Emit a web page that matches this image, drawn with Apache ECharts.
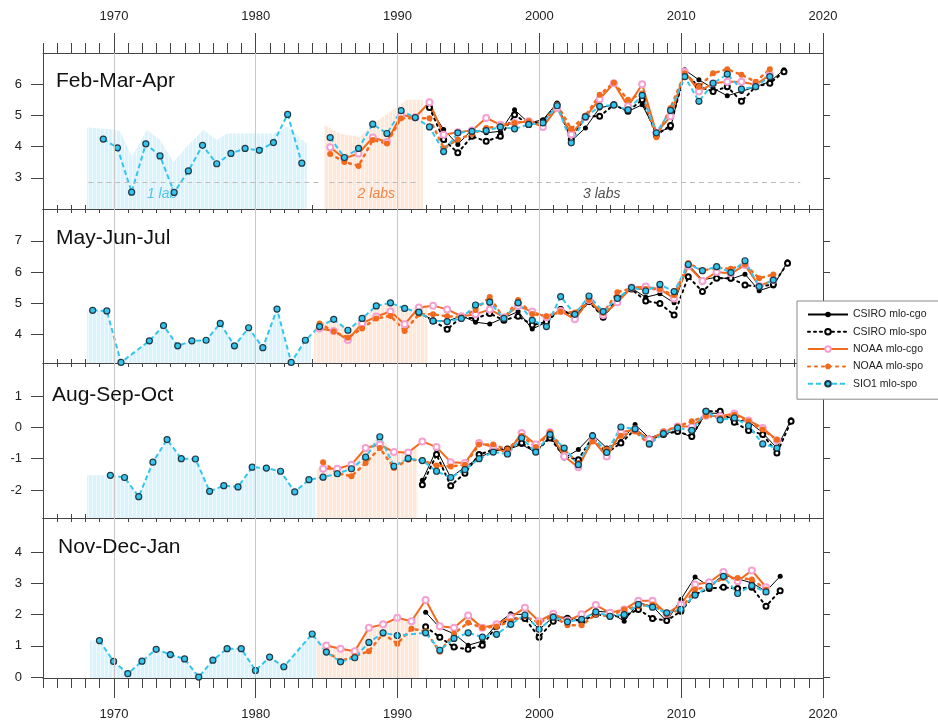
<!DOCTYPE html>
<html>
<head>
<meta charset="utf-8">
<script src="https://cdn.jsdelivr.net/npm/echarts@6/dist/echarts.min.js"></script>
<style>
  html, body { margin: 0; padding: 0; background: #fff; }
  #chart { width: 938px; height: 725px; }
</style>
</head>
<body>
<div id="chart"></div>
<script>
// seasons (one panel each) and where in the year each season's point sits
var seasons = ['Feb-Mar-Apr', 'May-Jun-Jul', 'Aug-Sep-Oct', 'Nov-Dec-Jan'];
var seasonShift = [0.25, 0.5, 0.75, 0.98];
var decades = [1970, 1980, 1990, 2000, 2010, 2020];
var gridLineYears = [1970, 1980, 1990, 2000, 2010];
var yTicks = [[3, 4, 5, 6], [4, 5, 6, 7], [-2, -1, 0, 1], [0, 1, 2, 3, 4]];

// first year of each record, per panel
var sioStart = [1969, 1968, 1969, 1968];
var noaaStart = [1985, 1984, 1984, 1984];
var csiroStart = [1992, 1991, 1991, 1991];

// Feb-Mar-Apr
var fmaSio = [4.24, 3.96, 2.54, 4.09, 3.70, 2.53, 3.22, 4.04, 3.45, 3.78, 3.94, 3.88, 4.13, 5.03, 3.47, null,
  4.29, 3.65, 3.94, 4.72, 4.42, 5.15, 4.93, 4.63, 3.84, 4.44, 4.49, 4.51, 4.63, 4.57, 4.71, 4.76, 5.31, 4.12,
  4.95, 5.29, 5.33, 5.18, 5.64, 4.44, 5.16, 6.24, 5.45, 6.03, 6.32, 5.84, 5.92, 6.24];
var fmaNoaaCgo = [3.98, 3.62, 3.78, 4.29, 4.15, 5.01, 4.94, 5.42, 4.38, 4.46, 4.52, 4.92, 4.70, 4.76, 4.81, 4.63,
  5.24, 4.39, 4.95, 5.52, 6.03, 5.29, 6.00, 4.44, 4.97, 6.40, 5.77, 6.03, 6.08, 6.08, 5.98, 6.30];
var fmaNoaaSpo = [3.76, 3.51, 3.38, 4.21, 4.10, 4.91, 4.91, 4.91, 3.95, 4.23, 4.40, 4.60, 4.65, 4.76, 4.81, 4.76,
  5.34, 4.57, 4.99, 5.66, 6.05, 5.50, 5.70, 4.30, 5.24, 6.35, 5.92, 6.35, 6.48, 6.30, 6.08, 6.48];
var fmaCsiroCgo = [5.25, 4.55, 4.07, 4.55, 4.44, 4.49, 5.18, 4.76, 4.86, 5.40, 4.18, 4.60, 5.24, 5.34, 5.13, 5.34,
  4.46, 4.60, 6.46, 6.14, 5.87, 5.63, 5.77, 5.92, 6.08, 6.46];
var fmaCsiroSpo = [5.25, 4.23, 3.80, 4.33, 4.17, 4.33, 5.02, 4.71, 4.81, 5.34, 4.23, 4.97, 4.97, 5.34, 5.13, 5.50,
  4.37, 4.68, 6.35, 5.92, 5.77, 5.92, 5.45, 5.92, 6.03, 6.40];

// May-Jun-Jul
var mjjSio = [4.77, 4.75, 3.10, null, 3.79, 4.28, 3.63, 3.79, 3.81, 4.35, 3.63, 4.21, 3.57, 4.81, 3.10, 3.81,
  4.25, 4.48, 4.13, 4.51, 4.91, 5.01, 4.83, 4.71, 4.43, 4.41, 4.51, 4.94, 5.03, 4.51, 5.01, 4.45, 4.25, 5.21,
  4.64, 5.23, 4.73, 5.15, 5.50, 5.39, 5.60, 5.37, 6.24, 6.04, 6.17, 5.98, 6.36, 5.53, 5.74];
var mjjNoaaCgo = [4.19, 4.11, 3.82, 4.35, 4.57, 4.73, 4.32, 4.86, 4.92, 4.80, 4.58, 4.64, 4.80, 4.55, 4.91, 4.73,
  4.55, 4.75, 4.48, 5.10, 4.62, 5.03, 5.50, 5.53, 5.45, 5.15, 6.19, 5.71, 6.00, 5.95, 6.22, 5.55, 5.74];
var mjjNoaaSpo = [4.35, 4.09, 3.89, 4.19, 4.51, 4.59, 4.11, 4.64, 4.64, 4.58, 4.55, 4.78, 5.20, 4.51, 5.10, 4.65,
  4.58, 4.72, 4.70, 5.10, 4.68, 5.35, 5.48, 5.45, 5.45, 5.25, 6.29, 6.04, 6.14, 6.10, 6.24, 5.80, 5.92];
var mjjCsiroCgo = [4.71, 4.46, 4.41, 4.60, 4.39, 4.33, 4.53, 4.73, 4.17, 4.39, 4.83, 4.58, 5.10, 4.53, 5.12, 5.48,
  5.19, 5.30, 5.01, 6.24, 5.75, 5.83, 5.77, 5.93, 5.40, 5.55, 6.33];
var mjjCsiroSpo = [4.71, 4.43, 4.16, 4.55, 4.51, 4.67, 4.45, 4.58, 4.30, 4.40, 4.80, 4.55, 5.05, 4.55, 5.15, 5.45,
  5.07, 4.99, 4.62, 5.85, 5.37, 5.80, 5.80, 5.58, 5.53, 5.60, 6.28];

// Aug-Sep-Oct
var asoSio = [-1.53, -1.60, -2.21, -1.11, -0.39, -1.00, -1.01, -2.04, -1.86, -1.90, -1.27, -1.30, -1.40, -2.06,
  -1.67, -1.59, -1.48, -1.32, -0.95, -0.30, -1.24, -0.99, -1.06, -1.40, -1.60, -1.35, -1.00, -0.79, -0.85, -0.34,
  -0.79, -0.23, -0.66, -1.19, -0.27, -0.80, 0.01, -0.05, -0.53, -0.20, -0.02, -0.10, 0.51, 0.24, 0.30, 0.05,
  -0.53, -0.66];
var asoNoaaCgo = [-1.32, -1.32, -1.19, -0.66, -0.55, -0.79, -0.80, -0.45, -0.63, -1.11, -1.14, -0.50, -0.63, -0.82,
  -0.18, -0.55, -0.16, -0.93, -1.27, -0.39, -0.93, -0.16, -0.07, -0.39, -0.16, 0.03, 0.03, 0.37, 0.35, 0.44, 0.22,
  -0.02, -0.41];
var asoNoaaSpo = [-1.11, -1.46, -1.56, -1.14, -0.66, -1.30, -1.03, -1.05, -1.22, -1.25, -1.19, -0.55, -0.55, -0.71,
  -0.27, -0.63, -0.16, -0.71, -1.14, -0.45, -0.71, -0.27, -0.13, -0.55, -0.13, 0.03, 0.19, 0.37, 0.30, 0.40, 0.19,
  -0.07, -0.40];
var asoCsiroCgo = [-1.69, -0.71, -1.60, -1.27, -0.97, -0.75, -0.71, -0.55, -0.80, -0.27, -0.98, -0.71, -0.23,
  -0.66, -0.45, 0.09, -0.34, -0.18, -0.13, -0.31, 0.46, 0.44, 0.24, 0.19, -0.18, -0.66, 0.24];
var asoCsiroSpo = [-1.83, -0.87, -1.86, -1.46, -0.87, -0.71, -0.69, -0.50, -0.77, -0.34, -0.93, -1.03, -0.31,
  -0.82, -0.50, -0.07, -0.39, -0.23, -0.13, -0.29, 0.51, 0.51, 0.16, -0.10, -0.23, -0.82, 0.19];

// Nov-Dec-Jan
var ndjSio = [1.17, 0.50, 0.11, 0.51, 0.89, 0.72, 0.58, 0.00, 0.54, 0.91, 0.91, 0.21, 0.64, 0.33, null, 1.38,
  0.80, 0.49, 0.62, 1.11, 1.42, 1.33, null, 1.42, 0.86, 1.24, 1.42, 1.28, 1.37, 1.69, 1.99, 1.53, 1.92, 1.77,
  1.85, 2.09, 1.95, 2.00, 2.33, 2.24, 2.06, 2.17, 2.63, 2.91, 3.23, 2.68, 2.93, 2.73];
var ndjNoaaCgo = [1.01, 0.91, 0.83, 1.58, 1.69, 1.90, 1.79, 2.47, 1.63, 1.58, 1.97, 1.58, 1.69, 1.92, 2.22, 1.79,
  2.03, 1.81, 2.01, 2.31, 2.06, 2.17, 2.45, 2.45, 2.03, 2.33, 2.97, 3.04, 3.37, 3.07, 3.42, 2.88];
var ndjNoaaSpo = [0.83, 0.51, 0.67, 0.83, 1.39, 1.07, 1.55, 1.47, 0.81, 1.40, 1.74, 1.58, 1.62, 1.79, 1.95, 1.74,
  1.95, 1.66, 1.66, 2.01, 1.95, 2.17, 2.27, 2.33, 2.01, 2.17, 2.81, 2.91, 3.18, 3.18, 3.13, 2.81];
var ndjCsiroCgo = [2.08, 1.58, 1.39, 1.02, 1.15, 1.69, 2.03, 2.00, 1.53, 1.92, 1.92, 1.81, 2.11, 2.08, 1.79, 2.38,
  2.27, 1.79, 2.49, 3.21, 2.91, 3.27, 3.15, 3.02, 2.75, 3.23];
var ndjCsiroSpo = [1.61, 1.28, 0.96, 0.89, 1.02, 1.63, 1.88, 1.88, 1.28, 1.79, 1.88, 1.79, 2.01, 1.95, 1.95, 2.17,
  1.88, 1.81, 2.11, 2.65, 2.84, 2.88, 2.84, 2.88, 2.27, 2.77];

// shaded periods: one lab (blue) and two labs (orange), [from, to] per panel
var oneLabSpan = [[1968.1, 1983.6], [1968.1, 1983.9], [1968.1, 1984.2], [1968.3, 1984.3]];
var twoLabSpan = [[1984.8, 1991.8], [1984.1, 1992.1], [1984.3, 1991.4], [1984.3, 1991.5]];
// Feb-Mar-Apr envelope tops
var fmaBlueX = [1968.1, 1970.0, 1970.45, 1971.27, 1972.33, 1973.27, 1974.2, 1975.15, 1976.32, 1977.26, 1977.97, 1981.26, 1982.2, 1983.6];
var fmaBlueTop = [4.61, 4.55, 4.48, 3.67, 4.53, 4.20, 3.51, 4.00, 4.53, 4.21, 4.42, 4.42, 4.64, 4.10];
var fmaOrangeX = [1984.83, 1985.96, 1987.37, 1988.3, 1989.5, 1990.66, 1991.8];
var fmaOrangeTop = [4.69, 4.42, 4.31, 4.74, 5.12, 5.50, 5.50];

// "n labs" notes in the top panel
var labNotes = ['1 lab', '2 labs', '3 labs'];
var labSpans = [[1968.2, 1984.5], [1985.2, 1991.55], [1992.85, 2018.4]];
var labTextX = [1973.4, 1988.5, 2004.4];
var labLevel = 2.87;

var names = ['CSIRO mlo-cgo', 'CSIRO mlo-spo', 'NOAA mlo-cgo', 'NOAA mlo-spo', 'SIO1 mlo-spo'];

var allSio = [fmaSio, mjjSio, asoSio, ndjSio];
var allNoaaCgo = [fmaNoaaCgo, mjjNoaaCgo, asoNoaaCgo, ndjNoaaCgo];
var allNoaaSpo = [fmaNoaaSpo, mjjNoaaSpo, asoNoaaSpo, ndjNoaaSpo];
var allCsiroCgo = [fmaCsiroCgo, mjjCsiroCgo, asoCsiroCgo, ndjCsiroCgo];
var allCsiroSpo = [fmaCsiroSpo, mjjCsiroSpo, asoCsiroSpo, ndjCsiroSpo];

// layout
var gridTop = [53, 209, 363, 518];
var gridHeight = [156, 154, 155, 160];
var yMin = [2, 3.08, -2.89, -0.03];
var yMax = [7, 8.02, 2.05, 5.1];
var connect = [false, true, true, true];

var ORANGE = '#f26a1e', CYAN = '#33c5ee', PINK = '#f5a0d2', AXIS = '#444';
var FONT = '"Liberation Sans", Arial, sans-serif';

function pts(start, vals, shift) {
  return vals.map(function (v, i) { return [start + i + shift, v]; });
}
function clean(list) {
  return list.filter(function (p) { return p[1] != null; });
}
function interp(list, x) {
  if (x <= list[0][0]) return list[0][1];
  for (var i = 0; i < list.length - 1; i++) {
    if (x >= list[i][0] && x <= list[i + 1][0]) {
      var t = (x - list[i][0]) / (list[i + 1][0] - list[i][0]);
      return list[i][1] + t * (list[i + 1][1] - list[i][1]);
    }
  }
  return list[list.length - 1][1];
}
// upper envelope of several records, cut to a span
function envelope(lists, span) {
  var byX = {};
  lists.forEach(function (l) {
    clean(l).forEach(function (p) {
      var k = p[0].toFixed(2);
      byX[k] = byX[k] == null ? p[1] : Math.max(byX[k], p[1]);
    });
  });
  var merged = Object.keys(byX).map(Number).sort(function (a, b) { return a - b; })
    .map(function (x) { return [x, byX[x.toFixed(2)]]; });
  var inside = merged.filter(function (p) { return p[0] > span[0] && p[0] < span[1]; });
  return [[span[0], interp(merged, span[0])]].concat(inside, [[span[1], interp(merged, span[1])]]);
}

var grids = [], xAxes = [], yAxes = [], series = [], titles = [];

for (var g = 0; g < 4; g++) {
  var first = g === 0, last = g === 3;
  grids.push({ left: 43, right: 115, top: gridTop[g], height: gridHeight[g], show: false });
  titles.push({
    text: seasons[g], left: [56, 56, 52, 58][g], top: [71, 228, 385, 537][g], padding: 0,
    textStyle: { fontSize: 21, fontWeight: 'normal', color: '#111', fontFamily: FONT }
  });

  var decadeLabel = {
    fontSize: 13, color: '#222', margin: 30, fontFamily: FONT, customValues: decades,
    formatter: function (v) { return String(v); }
  };
  var line = { show: true, onZero: false, lineStyle: { color: AXIS } };
  // bottom: yearly ticks, then decade ticks (+ labels on the last panel)
  xAxes.push({
    gridIndex: g, type: 'value', position: 'bottom', min: 1965, max: 2020, interval: 1,
    axisLine: line,
    axisTick: { show: true, inside: !last, length: last ? 10 : 4, lineStyle: { color: AXIS } },
    axisLabel: { show: false }, splitLine: { show: false }
  });
  xAxes.push({
    gridIndex: g, type: 'value', position: 'bottom', min: 1965, max: 2020,
    axisLine: { show: false, onZero: false },
    axisTick: { show: true, inside: !last, length: last ? 20 : 10, customValues: decades, lineStyle: { color: AXIS } },
    axisLabel: Object.assign({ show: last }, decadeLabel), splitLine: { show: false }
  });
  // top
  xAxes.push({
    gridIndex: g, type: 'value', position: 'top', min: 1965, max: 2020, interval: 1,
    axisLine: line,
    axisTick: { show: true, inside: !first, length: first ? 10 : 4, lineStyle: { color: AXIS } },
    axisLabel: { show: false }, splitLine: { show: false }
  });
  xAxes.push({
    gridIndex: g, type: 'value', position: 'top', min: 1965, max: 2020,
    axisLine: { show: false, onZero: false },
    axisTick: { show: true, inside: !first, length: first ? 20 : 10, customValues: decades, lineStyle: { color: AXIS } },
    axisLabel: Object.assign({ show: first }, decadeLabel), splitLine: { show: false }
  });

  yAxes.push({
    gridIndex: g, type: 'value', position: 'left', min: yMin[g], max: yMax[g],
    axisLine: line,
    axisTick: { show: true, length: 12, customValues: yTicks[g], lineStyle: { color: AXIS } },
    axisLabel: { show: true, customValues: yTicks[g], margin: 21, fontSize: 13, color: '#222', fontFamily: FONT },
    splitLine: { show: false }
  });
  yAxes.push({
    gridIndex: g, type: 'value', position: 'right', min: yMin[g], max: yMax[g],
    axisLine: line,
    axisTick: { show: true, length: 7, customValues: yTicks[g], lineStyle: { color: AXIS } },
    axisLabel: { show: false }, splitLine: { show: false }
  });

  var xi = 4 * g, yi = 2 * g, sh = seasonShift[g];
  var sio = pts(sioStart[g], allSio[g], sh);
  var noaaCgo = pts(noaaStart[g], allNoaaCgo[g], sh);
  var noaaSpo = pts(noaaStart[g], allNoaaSpo[g], sh);
  var csiroCgo = pts(csiroStart[g], allCsiroCgo[g], sh);
  var csiroSpo = pts(csiroStart[g], allCsiroSpo[g], sh);

  var blue, orange;
  if (g === 0) {
    blue = fmaBlueX.map(function (x, i) { return [x, fmaBlueTop[i]]; });
    orange = fmaOrangeX.map(function (x, i) { return [x, fmaOrangeTop[i]]; });
  } else {
    blue = envelope([sio], oneLabSpan[g]);
    orange = envelope([sio, noaaCgo, noaaSpo, csiroCgo, csiroSpo], twoLabSpan[g]);
  }
  var stripes = { symbol: 'rect', symbolSize: 1, color: 'rgba(255,255,255,0.55)', dashArrayX: [1, 3], dashArrayY: [4, 0], rotation: 0 };
  series.push({
    name: 'oneLab' + g, type: 'line', xAxisIndex: xi, yAxisIndex: yi, data: blue, z: 1, silent: true,
    symbol: 'none', lineStyle: { width: 0 }, itemStyle: { color: '#dbf3fc', decal: stripes },
    areaStyle: { color: '#dbf3fc', opacity: 1, origin: 'start' },
    markLine: {
      silent: true, symbol: 'none', label: { show: false },
      lineStyle: { color: '#c8c8c8', width: 1, type: 'solid' },
      data: gridLineYears.map(function (d) { return { xAxis: d }; })
    }
  });
  series.push({
    name: 'twoLabs' + g, type: 'line', xAxisIndex: xi, yAxisIndex: yi, data: orange, z: 1, silent: true,
    symbol: 'none', lineStyle: { width: 0 }, itemStyle: { color: '#fde8da', decal: stripes },
    areaStyle: { color: '#fde8da', opacity: 1, origin: 'start' }
  });

  var common = { type: 'line', xAxisIndex: xi, yAxisIndex: yi, connectNulls: connect[g], clip: false, z: 3 };
  series.push(Object.assign({}, common, {
    name: names[0], data: csiroCgo, symbol: 'circle', symbolSize: 5,
    itemStyle: { color: '#000' }, lineStyle: { color: '#000', width: 1 }
  }));
  series.push(Object.assign({}, common, {
    name: names[1], data: csiroSpo, symbol: 'emptyCircle', symbolSize: 5,
    itemStyle: { color: '#000', borderWidth: 1.5 }, lineStyle: { color: '#000', width: 2, type: [2, 4], cap: 'round' }
  }));
  series.push(Object.assign({}, common, {
    name: names[2], data: noaaCgo, symbol: 'emptyCircle', symbolSize: 6,
    itemStyle: { color: PINK, borderWidth: 1.2 }, lineStyle: { color: ORANGE, width: 2 }
  }));
  series.push(Object.assign({}, common, {
    name: names[3], data: noaaSpo, symbol: 'circle', symbolSize: 6,
    itemStyle: { color: ORANGE }, lineStyle: { color: ORANGE, width: 2.5, type: [2, 5], cap: 'round' }
  }));
  series.push(Object.assign({}, common, {
    name: names[4], data: sio, symbol: 'circle', symbolSize: 6,
    itemStyle: { color: CYAN, borderColor: '#1f3946', borderWidth: 1.2 },
    lineStyle: { color: CYAN, width: 2, type: [5, 3] }
  }));
}

// lab counts: dashed guide lines and italic notes in the first panel
var labColors = ['#2db8e2', ORANGE, '#222'];
series.push({
  name: 'labNotes', type: 'scatter', xAxisIndex: 0, yAxisIndex: 0, z: 2, silent: true,
  symbol: 'circle', symbolSize: 1, itemStyle: { color: 'rgba(0,0,0,0)' },
  data: labNotes.map(function (t, i) {
    return { name: t, value: [labTextX[i], labLevel], label: { color: labColors[i] } };
  }),
  label: {
    show: true, position: 'bottom', distance: 5, formatter: '{b}',
    fontSize: 14, fontStyle: 'italic', fontFamily: FONT
  },
  markLine: {
    silent: true, symbol: 'none', label: { show: false },
    lineStyle: { color: '#bdbdbd', width: 1, type: [5, 4] },
    data: labSpans.map(function (s) { return [{ coord: [s[0], labLevel] }, { coord: [s[1], labLevel] }]; })
  }
});

var chart = echarts.init(document.getElementById('chart'));
chart.setOption({
  animation: false,
  backgroundColor: '#fff',
  textStyle: { fontFamily: FONT },
  title: titles,
  legend: {
    data: names, orient: 'vertical', left: 797, top: 301,
    itemWidth: 40, itemHeight: 7, itemGap: 6.3,
    padding: [8, 40, 10, 10],
    backgroundColor: '#fff', borderColor: '#8a8a8a', borderWidth: 1,
    textStyle: { fontSize: 10.5, color: '#222', fontFamily: FONT }
  },
  grid: grids,
  xAxis: xAxes,
  yAxis: yAxes,
  series: series
});
window.onresize = chart.resize;
</script>
</body>
</html>
